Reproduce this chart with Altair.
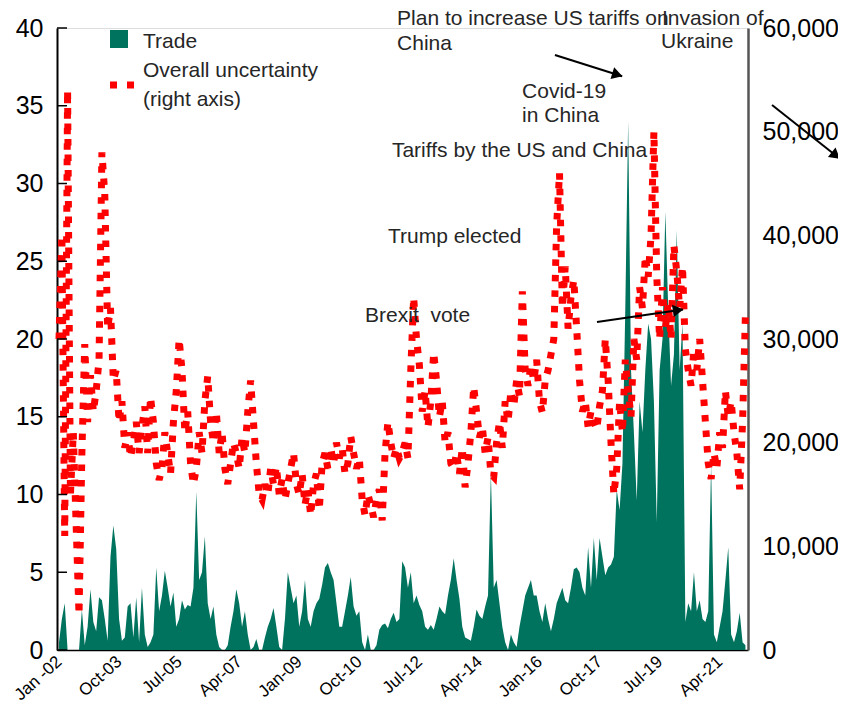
import json
import math
import altair as alt
import pandas as pd

# ---------------- data ----------------
# month index 0 = Jan 2002, monthly observations
uncertainty_k = [
    30, 40, 11, 54, 15, 21, 12, 3.4, 19, 29.5,
    22, 26.5, 23, 25, 28, 48, 44, 31, 33, 26,
    27, 22, 24, 19.5, 21, 18.6, 20, 22, 19, 21.5,
    23.5, 19, 24.4, 22, 18, 16.4, 17.5, 21, 19, 17,
    22, 25, 30, 27, 21, 23, 18, 16, 17.5, 21,
    19, 24, 26.4, 22, 20, 23, 19, 21, 17.5, 16,
    18, 20, 19, 17.5, 20.5, 19, 23, 26, 22, 18,
    15, 14.5, 16, 15, 17.5, 16, 17.7, 15, 16.5, 14.5,
    16, 17.5, 19, 16, 15, 17, 14, 15.5, 13, 16,
    17, 13.5, 18, 19, 17.5, 19.5, 18, 20, 18.5, 19.5,
    17, 18, 20.6, 19, 17.5, 18.5, 14.5, 13, 15, 14,
    12.8, 14.5, 15.5, 12.5, 19, 22, 20, 18.5, 19.5, 18.5,
    19, 20, 18.5, 27, 34, 30, 27.5, 23, 25, 21.5,
    24, 28.7, 26, 22.5, 24, 20, 21, 18, 17.5, 19,
    17, 19.5, 15.7, 18, 21, 25.4, 23, 20.5, 21.5, 19,
    20.5, 17, 16.7, 20, 22, 19.5, 24, 22, 25, 23.5,
    26, 24.5, 34.6, 27, 25.5, 27.5, 26, 28, 24, 22.9,
    26, 27, 28.5, 30, 41, 46, 33, 37, 31, 34,
    35.7, 31, 26, 23, 24, 21.5, 23, 22, 21.3, 23.5,
    25, 30, 26, 20, 15, 17.5, 24, 21, 28, 25,
    22.5, 30, 28, 35, 33, 38, 36, 40, 50, 36,
    30, 35, 31, 33.5, 30, 39, 36.5, 33, 37, 29,
    27, 25.5, 29, 27, 30, 26, 22, 18, 16.5, 19,
    17.5, 21, 19.5, 25, 22.5, 24, 21, 19, 15.5, 22,
    32.4,
]
trade = [
    0.5, 2.0, 3.0, 0, 0, 0, 0, 0, 2.6, 0.3,
    1.5, 3.9, 1.8, 1.2, 3.4, 3.2, 2.0, 0.6, 6.0, 8.0,
    6.5, 2.0, 0.6, 0.8, 2.8, 3.0, 0.8, 3.4, 0.5, 4.0,
    1.0, 0.2, 0.5, 1.0, 5.3, 2.5, 3.5, 5.1, 4.0, 2.8,
    3.7, 1.5, 2.0, 3.2, 2.6, 2.9, 2.8, 4.0, 10.2, 4.5,
    5.0, 7.3, 3.0, 2.0, 2.8, 1.0, 0.2, 0, 0, 0.3,
    1.5, 2.5, 3.9, 3.0, 1.5, 2.5, 1.0, 0, 0.2, 0.7,
    0, 0, 0.8, 1.5, 2.0, 2.7, 1.5, 0.2, 0, 2.0,
    5.0, 4.0, 3.0, 3.5, 1.5, 2.5, 4.5, 2.0, 1.5, 2.5,
    3.0, 3.3, 4.2, 5.3, 5.6, 5.0, 4.5, 3.0, 1.5, 1.5,
    2.5, 3.5, 4.7, 2.8, 2.2, 2.5, 0.5, 0, 1.0, 0,
    0, 0.3, 1.3, 1.6, 1.7, 1.4, 2.0, 2.4, 1.8, 2.0,
    5.7, 5.3, 4.0, 5.0, 3.0, 3.5, 2.9, 2.5, 1.5, 1.3,
    1.6, 1.3, 2.0, 2.8, 2.5, 2.3, 3.5, 4.5, 5.9, 4.5,
    3.3, 1.5, 0.8, 0.7, 0.6, 1.5, 2.6, 2.2, 2.0, 2.8,
    3.5, 11.4, 4.0, 4.5, 3.0, 1.5, 0.5, 0, 1.0, 0.5,
    0.2, 1.5, 2.5, 3.5, 4.0, 4.5, 3.5, 3.5, 2.5, 1.8,
    3.0, 2.0, 1.2, 2.0, 3.0, 3.5, 4.0, 3.2, 3.0, 4.0,
    5.2, 5.3, 5.0, 4.0, 3.5, 6.6, 4.0, 7.2, 4.5, 7.2,
    6.0, 4.8, 5.3, 5.5, 6.0, 10.3, 9.0, 12.0, 22.0, 34.0,
    18.0, 14.0, 9.6, 16.0, 14.0, 18.0, 21.0, 20.0, 16.0, 8.2,
    18.0, 20.0, 28.2, 22.0, 17.0, 19.0, 27.0, 18.0, 21.0, 1.8,
    3.0, 2.5, 5.0, 2.5, 3.2, 2.0, 1.8, 2.5, 12.0, 1.0,
    0.5, 1.5, 2.5, 4.5, 6.6, 1.0, 0.5, 1.2, 2.4, 0.5,
    0.3,
]
months = list(range(len(trade)))

tick_months = [0, 21, 42, 63, 84, 105, 126, 147, 168, 189, 210, 231]
tick_labels = ["Jan -02", "Oct-03", "Jul-05", "Apr-07", "Jan-09", "Oct-10",
               "Jul-12", "Apr-14", "Jan-16", "Oct-17", "Jul-19", "Apr-21"]
left_ticks = [0, 5, 10, 15, 20, 25, 30, 35, 40]
right_ticks = [0, 10000, 20000, 30000, 40000, 50000, 60000]

ann_text = ["Plan to increase US tariffs on", "China", "Invasion of", "Ukraine",
            "Covid-19", "in China", "Tariffs by the US and China",
            "Trump elected", "Brexit\u00a0 vote"]
ann_month = [118.2, 118.2, 210.8, 210.5, 161.9, 161.9, 116.4, 115.0, 107.0]
ann_value = [40.2, 38.6, 40.2, 38.7, 35.5, 33.95, 31.7, 26.2, 21.1]

arrow_m = [173.4, 188.1, 249.3]
arrow_v = [38.26, 21.1, 35.05]
arrow_m2 = [196.9, 218.2, 273.0]
arrow_v2 = [36.9, 21.9, 31.6]

# ---------------- chart ----------------
TEAL = "#00735f"
RED = "#ff0000"
FONT = "Liberation Sans"
W, H = 691, 622
X_DOMAIN = [-0.7, 240.9]
PX_PER_MONTH = W / (X_DOMAIN[1] - X_DOMAIN[0])
PX_PER_UNIT = H / 40.0

df = pd.DataFrame({"m": months, "trade": trade,
                   "unc": [v * 1000 for v in uncertainty_k]})

label_expr = "{}[indexof({}, datum.value)]".format(
    json.dumps(tick_labels).replace('"', "'"), json.dumps(tick_months))

x_enc = alt.X(
    "m:Q",
    scale=alt.Scale(domain=X_DOMAIN, nice=False, zero=False),
    axis=alt.Axis(values=tick_months, labelExpr=label_expr, title=None,
                  grid=False, ticks=False, domainColor="#000", domainWidth=1.5,
                  labelAngle=-42, labelAlign="right", labelBaseline="middle",
                  labelPadding=9, labelFontSize=17, labelFont=FONT,
                  labelColor="#000", labelOverlap=False, labelFlush=False,
                  labelBound=False),
)
y_left_scale = alt.Scale(domain=[0, 40], nice=False, zero=True)

area = alt.Chart(df).mark_area(color=TEAL, interpolate="linear", opacity=1).encode(
    x=x_enc,
    y=alt.Y("trade:Q", scale=y_left_scale,
            axis=alt.Axis(orient="left", values=left_ticks, title=None, grid=False,
                          ticks=False, domainColor="#000", domainWidth=2,
                          labelFontSize=25, labelFont=FONT, labelColor="#000",
                          labelPadding=14, labelFlush=False)),
)

line = alt.Chart(df).mark_line(color=RED, strokeWidth=7, strokeDash=[6.5, 9],
                               strokeCap="butt", interpolate="linear").encode(
    x=x_enc,
    y=alt.Y("unc:Q", scale=alt.Scale(domain=[0, 60000], nice=False),
            axis=alt.Axis(orient="right", values=right_ticks, format=",.0f",
                          title=None, grid=False, ticks=False, domainColor="#555",
                          domainWidth=2.5, labelFontSize=25, labelFont=FONT,
                          labelColor="#000", labelPadding=14, labelFlush=False)),
)

tick_df = pd.DataFrame({"t": left_ticks})
inner_ticks = alt.Chart(tick_df).mark_rule(color="#000", strokeWidth=1.5).encode(
    y=alt.Y("t:Q", scale=y_left_scale, axis=None),
    x=alt.value(0), x2=alt.value(10),
)

ann_df = pd.DataFrame({"m": ann_month, "v": ann_value, "text": ann_text})
annotations = alt.Chart(ann_df).mark_text(
    align="left", baseline="alphabetic", fontSize=21, font=FONT, color="#262626"
).encode(
    x=x_enc,
    y=alt.Y("v:Q", scale=y_left_scale, axis=None),
    text="text:N",
)

arr_df = pd.DataFrame({"m": arrow_m, "v": arrow_v, "m2": arrow_m2, "v2": arrow_v2})
heads = []
for a, b, c, d in zip(arrow_m, arrow_v, arrow_m2, arrow_v2):
    dx = (c - a) * PX_PER_MONTH
    dy = -(d - b) * PX_PER_UNIT
    ang = math.atan2(dy, dx)
    back = 5.0
    heads.append({
        "m": c - back * math.cos(ang) / PX_PER_MONTH,
        "v": d + back * math.sin(ang) / PX_PER_UNIT,
        "ang": math.degrees(ang) % 360,
    })
head_df = pd.DataFrame(heads)

arrow_lines = alt.Chart(arr_df).mark_rule(color="#000", strokeWidth=2).encode(
    x=x_enc,
    y=alt.Y("v:Q", scale=y_left_scale, axis=None),
    x2="m2:Q", y2="v2:Q",
)
arrow_heads = alt.Chart(head_df).mark_point(
    shape="triangle-right", filled=True, color="#000", opacity=1, size=150
).encode(
    x=x_enc,
    y=alt.Y("v:Q", scale=y_left_scale, axis=None),
    angle=alt.Angle("ang:Q", scale=None),
)

# legend (drawn by hand, top-left inside the plot)
leg_sq = alt.Chart(pd.DataFrame({"k": ["Trade"]})).mark_square(
    color=TEAL, size=324, opacity=1).encode(x=alt.value(62), y=alt.value(11))
leg_dash = alt.Chart(pd.DataFrame({"k": ["Overall uncertainty"]})).mark_rule(
    color=RED, strokeWidth=7, strokeDash=[7, 10], strokeCap="butt").encode(
    x=alt.value(53), x2=alt.value(78), y=alt.value(57))
leg_text_df = pd.DataFrame({"t": ["Trade", "Overall uncertainty", "(right axis)"],
                            "yy": [20, 49, 78]})
leg_text = alt.Chart(leg_text_df).mark_text(
    align="left", baseline="alphabetic", fontSize=21, font=FONT, color="#262626"
).encode(x=alt.value(86), y=alt.Y("yy:Q", scale=None, axis=None), text="t:N")

chart = alt.layer(
    area, line, inner_ticks, annotations, arrow_lines, arrow_heads,
    leg_sq, leg_dash, leg_text,
).resolve_scale(y="independent").properties(
    width=W, height=H,
    autosize=alt.AutoSizeParams(type="none"),
    padding={"left": 49, "top": 20, "right": 90, "bottom": 54},
).configure_view(stroke=None).configure(background="white")

chart.save("out.html", embed_options={"renderer": "svg", "actions": False})
